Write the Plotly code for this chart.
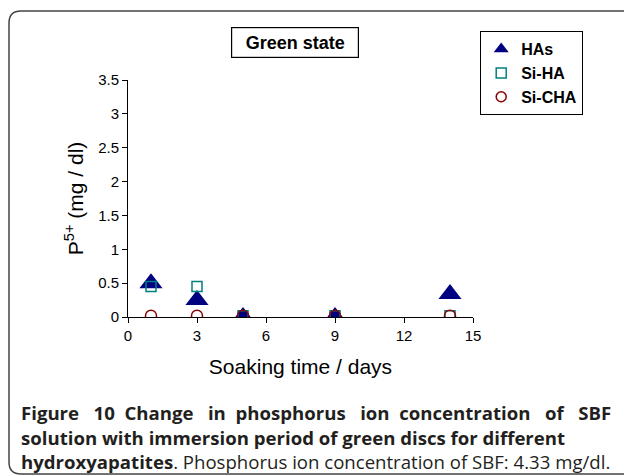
import plotly.graph_objects as go

days = [1, 3, 5, 9, 14]
has_vals = [0.5, 0.25, 0.0, 0.0, 0.34]
siha_vals = [0.45, 0.45, 0.02, 0.02, 0.02]
sicha_vals = [0.02, 0.02, 0.02, 0.02, 0.02]
x_ticks = [0, 3, 6, 9, 12, 15]
y_ticks = [0, 0.5, 1, 1.5, 2, 2.5, 3, 3.5]
y_tick_labels = ["0", "0.5", "1", "1.5", "2", "2.5", "3", "3.5"]

W, H = 624, 476
ML, MR, MT, MB = 128, 151, 80, 159
PW, PH = W - ML - MR, H - MT - MB

def px(x):
    return (x - ML) / PW

def py(y):
    return (H - MB - y) / PH

AR = "Liberation Sans, Arial, sans-serif"
fig = go.Figure()
fig.add_trace(go.Scatter(x=days, y=has_vals, mode="markers", name="HAs", showlegend=False,
                         marker=dict(symbol="triangle-up", size=20, color="#000080")))
fig.add_trace(go.Scatter(x=days, y=siha_vals, mode="markers", name="Si-HA", showlegend=False,
                         marker=dict(symbol="square-open", size=10, color="#008080", line=dict(width=1.5))))
fig.add_trace(go.Scatter(x=days, y=sicha_vals, mode="markers", name="Si-CHA", showlegend=False,
                         marker=dict(symbol="circle-open", size=11, color="#8B0000", line=dict(width=1.5))))
# legend entries
fig.add_trace(go.Scatter(x=[None], y=[None], mode="markers", name="HAs",
                         marker=dict(symbol="triangle-up", size=13, color="#000080")))
fig.add_trace(go.Scatter(x=[None], y=[None], mode="markers", name="Si-HA",
                         marker=dict(symbol="square-open", size=10, color="#008080", line=dict(width=1.5))))
fig.add_trace(go.Scatter(x=[None], y=[None], mode="markers", name="Si-CHA",
                         marker=dict(symbol="circle-open", size=10, color="#8B0000", line=dict(width=1.5))))

axis_common = dict(showline=True, linecolor="black", linewidth=1, ticks="outside", ticklen=5,
                   tickcolor="black", showgrid=False, zeroline=False,
                   tickfont=dict(family=AR, size=15, color="black"))
fig.update_xaxes(range=[0, 15], tickvals=x_ticks, **axis_common,
                 title=dict(text="Soaking time / days", font=dict(family=AR, size=21, color="black"), standoff=16))
fig.update_yaxes(range=[0, 3.5], tickvals=y_ticks, ticktext=y_tick_labels, **axis_common,
                 title=dict(text="P<sup>5+</sup> (mg / dl)", font=dict(family=AR, size=21, color="black"), standoff=8))

# rounded border
x0, y0, x1, y1, r = 9, 11, 650, 474, 12
path = (f"M {px(x1)},{py(y0)} L {px(x0 + r)},{py(y0)} Q {px(x0)},{py(y0)} {px(x0)},{py(y0 + r)} "
        f"L {px(x0)},{py(y1 - r)} Q {px(x0)},{py(y1)} {px(x0 + r)},{py(y1)} L {px(x1)},{py(y1)}")
shapes = [dict(type="path", xref="paper", yref="paper", path=path, line=dict(color="#444444", width=1.5))]

CF = "Open Sans, Noto Sans, sans-serif"
CS = 18.6
CC = "#231f20"
NB = "\u00a0"
line1_words = ["Figure", "10", "Change", "in", "phosphorus", "ion", "concentration", "of", "SBF"]
extra = [2, 1, 2, 1, 2, 1, 2, 2]
line1 = line1_words[0]
for w, k in zip(line1_words[1:], extra):
    line1 += " " + NB * k + w

annotations = [
    dict(text="<b>Green state</b>", xref="paper", yref="paper", x=px(295), y=py(42.5), showarrow=False,
         font=dict(family=AR, size=18, color="black"), bordercolor="black", borderwidth=1.2,
         borderpad=4, bgcolor="white", xanchor="center", yanchor="middle", width=118, height=21),
    dict(text=f"<b>{line1}</b>", xref="paper", yref="paper", x=px(19), y=py(412),
         showarrow=False, xanchor="left", yanchor="middle", font=dict(family=CF, size=CS, color=CC)),
    dict(text="<b>solution with immersion period of green discs for different</b>", xref="paper", yref="paper",
         x=px(19), y=py(437), showarrow=False, xanchor="left", yanchor="middle",
         font=dict(family=CF, size=CS, color=CC)),
    dict(text="<b>hydroxyapatites</b>. Phosphorus ion concentration of SBF: 4.33 mg/dl.", xref="paper", yref="paper",
         x=px(19), y=py(461), showarrow=False, xanchor="left", yanchor="middle",
         font=dict(family=CF, size=CS, color=CC)),
]

fig.update_layout(
    width=W, height=H, margin=dict(l=ML, r=MR, t=MT, b=MB, autoexpand=False),
    paper_bgcolor="white", plot_bgcolor="white",
    shapes=shapes, annotations=annotations,
    legend=dict(x=px(480), y=py(31), xanchor="left", yanchor="top", bordercolor="black", borderwidth=1.2,
                bgcolor="white", font=dict(family=AR, size=16, color="black", weight="bold"),
                itemwidth=30, tracegroupgap=0),
)
fig.write_html("out.html")
